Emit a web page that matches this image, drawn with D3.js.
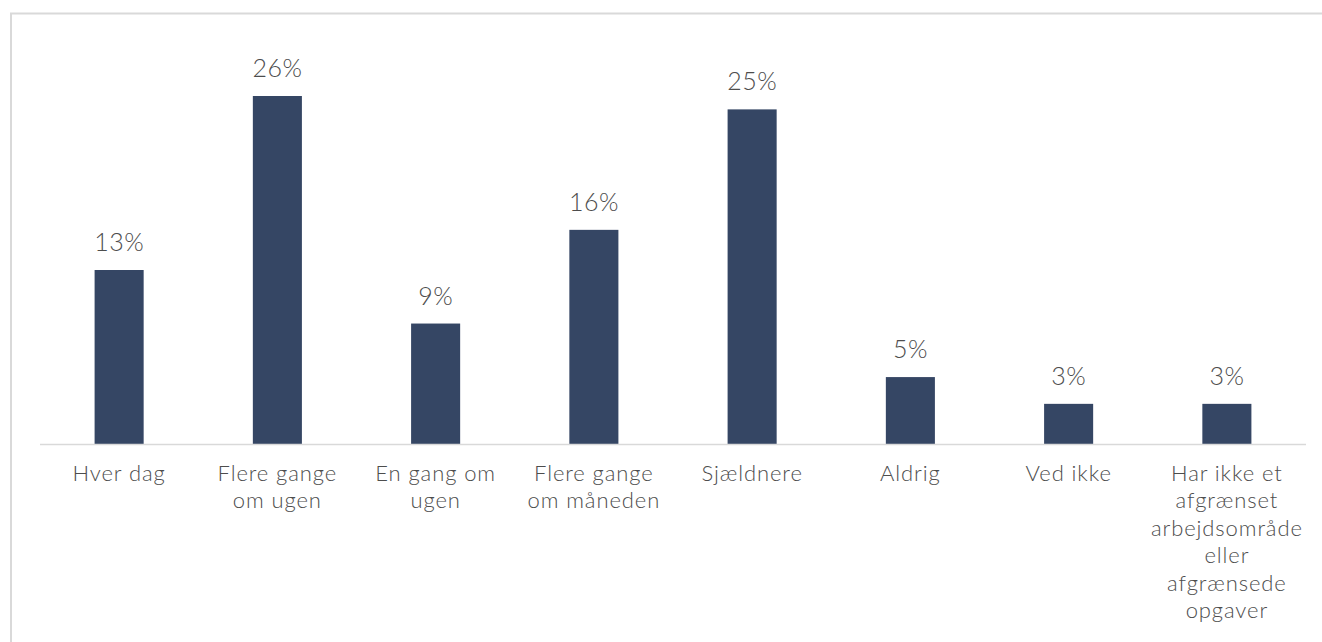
<!doctype html>
<html>
  <head>
    <script src="https://d3js.org/d3.v7.min.js"></script>
    <style>
      body { margin: 0; background: #fff; }
      svg { display: block; }
      text { font-family: Lato, "Open Sans", sans-serif; font-weight: 300; fill: #4d4d4d; }
    </style>
  </head>
  <body>
    <svg id="chart" width="1322" height="642"></svg>
    <script>
      // categories (line breaks as in the original) and shares in percent
      var categories = [
        "Hver dag",
        "Flere gange\nom ugen",
        "En gang om\nugen",
        "Flere gange\nom måneden",
        "Sjældnere",
        "Aldrig",
        "Ved ikke",
        "Har ikke et\nafgrænset\narbejdsområde\neller\nafgrænsede\nopgaver"
      ];
      var values = [13, 26, 9, 16, 25, 5, 3, 3];

      var svg = d3.select("svg#chart");

      // frame lines
      svg.append("line").attr("x1", 10).attr("x2", 1322).attr("y1", 13.5).attr("y2", 13.5)
        .attr("stroke", "#d9d9d9").attr("stroke-width", 2);
      svg.append("line").attr("x1", 11).attr("x2", 11).attr("y1", 13).attr("y2", 642)
        .attr("stroke", "#d9d9d9").attr("stroke-width", 2);

      var x = d3.scaleBand()
        .domain(categories)
        .range([40, 1306])
        .paddingInner(0.69)
        .paddingOuter(0.345);

      var y = d3.scaleLinear()
        .domain([0, 26])
        .range([444, 96]);

      var data = categories.map((c, i) => ({ cat: c, val: values[i] }));

      svg.selectAll("rect.bar")
        .data(data)
        .enter()
        .append("rect")
        .attr("class", "bar")
        .attr("x", d => x(d.cat))
        .attr("y", d => y(d.val))
        .attr("width", x.bandwidth())
        .attr("height", d => y(0) - y(d.val))
        .attr("fill", "#354664");

      // baseline
      svg.append("line").attr("x1", 40).attr("x2", 1306).attr("y1", 444.5).attr("y2", 444.5)
        .attr("stroke", "#d9d9d9").attr("stroke-width", 1.5);

      // value labels
      svg.selectAll("text.val")
        .data(data)
        .enter()
        .append("text")
        .attr("class", "val")
        .attr("x", d => x(d.cat) + x.bandwidth() / 2)
        .attr("y", d => y(d.val) - 19)
        .attr("text-anchor", "middle")
        .style("font-size", "25px")
        .style("letter-spacing", "0.5px")
        .text(d => d.val + "%");

      // category labels
      var lab = svg.selectAll("text.cat")
        .data(data)
        .enter()
        .append("text")
        .attr("class", "cat")
        .attr("text-anchor", "middle")
        .style("font-size", "22px")
        .style("letter-spacing", "0.9px");

      lab.selectAll("tspan")
        .data(d => d.cat.split("\n").map(s => ({ s: s, cx: x(d.cat) + x.bandwidth() / 2 })))
        .enter()
        .append("tspan")
        .attr("x", d => d.cx)
        .attr("y", (d, i) => 481 + i * 27.4)
        .text(d => d.s);
    </script>
  </body>
</html>
